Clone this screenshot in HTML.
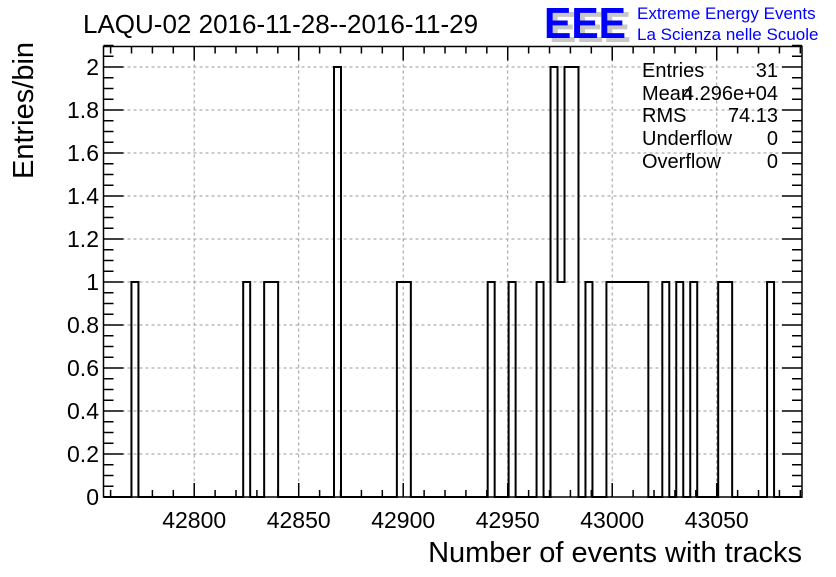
<!DOCTYPE html>
<html><head><meta charset="utf-8"><style>
body{margin:0;background:#fff;}
svg text{font-family:"Liberation Sans",sans-serif;}
</style></head><body>
<svg id="c" width="836" height="572" viewBox="0 0 836 572">
<text x="83" y="33" font-size="26">LAQU-02 2016-11-28--2016-11-29</text>
<g>
<text x="549" y="42" font-size="44" font-weight="bold" fill="#c8c8c8" textLength="82" lengthAdjust="spacingAndGlyphs">EEE</text>
<text x="544" y="38" font-size="44" font-weight="bold" fill="#0000ff" textLength="82" lengthAdjust="spacingAndGlyphs">EEE</text>
<text x="637" y="19" font-size="17" fill="#0000ff">Extreme Energy Events</text>
<text x="637" y="40" font-size="17" fill="#0000ff">La Scienza nelle Scuole</text>
</g>
<g id="grid"></g>
<g id="axes"></g>
<path id="hist" fill="none" stroke="#000" stroke-width="2"/>
<rect x="103.5" y="46.5" width="698.5" height="450.5" fill="none" stroke="#000" stroke-width="1.5"/>
<text transform="translate(33,179) rotate(-90)" font-size="29">Entries/bin</text>
<text x="802" y="562" font-size="29" text-anchor="end">Number of events with tracks</text>
<g font-size="20">
<text x="642" y="77">Entries</text><text x="778" y="77" text-anchor="end">31</text>
<text x="642" y="100">Mean</text><text x="778" y="100" text-anchor="end">4.296e+04</text>
<text x="642" y="122">RMS</text><text x="778" y="122" text-anchor="end">74.13</text>
<text x="642" y="145">Underflow</text><text x="778" y="145" text-anchor="end">0</text>
<text x="642" y="168">Overflow</text><text x="778" y="168" text-anchor="end">0</text>
</g>
</svg>
<script>
const binIndex=[4,20,23,24,33,42,43,55,58,62,64,65,66,67,69,72,73,74,75,76,77,80,82,84,88,89,95];
const binCount=[1,1,1,1,2,1,1,1,1,1,2,1,2,2,1,1,1,1,1,1,1,1,1,1,1,1,1];
const xTicks=[42800,42850,42900,42950,43000,43050];
const yTicks=[0,0.2,0.4,0.6,0.8,1,1.2,1.4,1.6,1.8,2];
const yLabels=["0","0.2","0.4","0.6","0.8","1","1.2","1.4","1.6","1.8","2"];
const nBins=100, xMin=42756.6, xMax=43090.8;
const L=103.5,R=802,T=46.5,B=497;
const X=v=>L+(v-xMin)/(xMax-xMin)*(R-L);
const Y=v=>B-v*(B-282)/1;
const bw=(xMax-xMin)/nBins;
const ns="http://www.w3.org/2000/svg";
const grid=document.getElementById('grid'),axes=document.getElementById('axes');
function ln(p,x1,y1,x2,y2,st,w,d){const l=document.createElementNS(ns,'line');
l.setAttribute('x1',x1);l.setAttribute('y1',y1);l.setAttribute('x2',x2);l.setAttribute('y2',y2);
l.setAttribute('stroke',st);l.setAttribute('stroke-width',w);if(d)l.setAttribute('stroke-dasharray',d);


p.appendChild(l);}
function tx(x,y,s,a){const t=document.createElementNS(ns,'text');t.setAttribute('x',x);t.setAttribute('y',y);
t.setAttribute('font-size','23');t.setAttribute('text-anchor',a);t.textContent=s;


axes.appendChild(t);}
xTicks.forEach(v=>{const x=X(v);ln(grid,x,T,x,B,'#999',1,'3,3');tx(x,528,String(v),'middle');});
yTicks.forEach((v,i)=>{const y=Y(v);if(v>0)ln(grid,L,y,R,y,'#999',1,'3,3');tx(99,y+8,yLabels[i],'end');});
for(let v=42760;v<=43090;v+=10){const x=X(v);const maj=(v%50===0);const h=maj?14:7;
ln(axes,x,B,x,B-h,'#000',1.5);ln(axes,x,T,x,T+h,'#000',1.5);}
for(let v=0;v<=2.1001;v+=0.05){const y=Y(v);const maj=Math.abs(v/0.2-Math.round(v/0.2))<1e-6;const h=maj?20:10;
ln(axes,L,y,L+h,y,'#000',1.5);ln(axes,R,y,R-h,y,'#000',1.5);}
const counts=new Array(nBins).fill(0);binIndex.forEach((b,i)=>counts[b]=binCount[i]);
let d='M'+L+','+B;
for(let i=0;i<nBins;i++){const x0=X(xMin+i*bw),x1=X(xMin+(i+1)*bw);d+=' L'+x0+','+Y(counts[i])+' L'+x1+','+Y(counts[i]);}
d+=' L'+R+','+B;
document.getElementById('hist').setAttribute('d',d);
</script>
</body></html>
